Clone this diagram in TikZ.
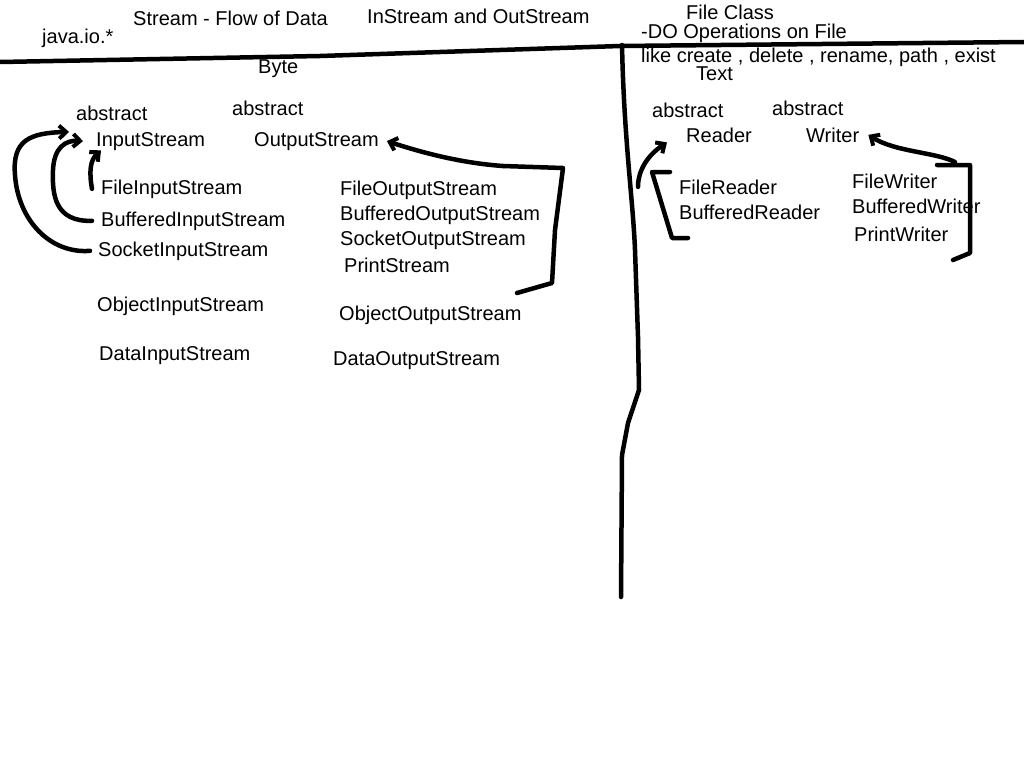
\documentclass[tikz,border=0pt]{standalone}
\usepackage{fontspec}
\setmainfont{Liberation Sans}
\usetikzlibrary{arrows.meta}
\tikzset{
  lbl/.style={anchor=base west,inner sep=0pt,font=\fontsize{20}{24}\selectfont},
  hand/.style={line width=4.5pt,line cap=round,line join=round},
  harrow/.style={hand,-{Straight Barb[length=7pt,width=13pt,line width=4pt]}}
}
\begin{document}
\begin{tikzpicture}[x=1pt,y=1pt,yscale=-1,xscale=1]
\useasboundingbox (0,0) rectangle (1024,768);

% Text Node
\node[lbl] (javaio) at (42,44) {java.io.*};
\node[lbl] (flow) at (133,26) {Stream - Flow of Data};
\node[lbl] (inout) at (367,24) {InStream and OutStream};
\node[lbl] (fileclass) at (686,20) {File Class};
\node[lbl] (fileops) at (641,38) {-DO Operations on File};
\node[lbl] (fileops2) at (641,63) {like create , delete , rename, path , exist};
\node[lbl] (text) at (696,81) {Text};
\node[lbl] (byte) at (258,73) {Byte};

% Text Node
\node[lbl] (absin) at (76,120) {abstract};
\node[lbl] (instream) at (96,146) {InputStream};
\node[lbl] (absout) at (232,115) {abstract};
\node[lbl] (outstream) at (254,146) {OutputStream};
\node[lbl] (filein) at (101,194) {FileInputStream};
\node[lbl] (bufin) at (101,226) {BufferedInputStream};
\node[lbl] (sockin) at (98,256) {SocketInputStream};
\node[lbl] (objin) at (97,311) {ObjectInputStream};
\node[lbl] (datain) at (99,360) {DataInputStream};
\node[lbl] (fileout) at (340,195) {FileOutputStream};
\node[lbl] (bufout) at (340,220) {BufferedOutputStream};
\node[lbl] (sockout) at (340,245) {SocketOutputStream};
\node[lbl] (printout) at (344,272) {PrintStream};
\node[lbl] (objout) at (339,320) {ObjectOutputStream};
\node[lbl] (dataout) at (333,365) {DataOutputStream};

% Text Node
\node[lbl] (absrd) at (652,117) {abstract};
\node[lbl] (reader) at (686,142) {Reader};
\node[lbl] (abswr) at (772,115) {abstract};
\node[lbl] (writer) at (806,142) {Writer};
\node[lbl] (filerd) at (679,194) {FileReader};
\node[lbl] (bufrd) at (679,219) {BufferedReader};
\node[lbl] (filewr) at (852,188) {FileWriter};
\node[lbl] (bufwr) at (852,213) {BufferedWriter};
\node[lbl] (printwr) at (854,241) {PrintWriter};

%Straight Lines
\draw[hand] (0,62) -- (320,56) -- (620,46) -- (1024,42);
\draw[hand] (622,45) .. controls (624,140) and (633,200) .. (635,250)
  -- (638,337) -- (639,390) -- (628,423) -- (622,455) -- (621,597);

%Curve Lines
\draw[harrow] ([xshift=-8pt]sockin.west) .. controls (50,254) and (18,220) .. (15,175)
  .. controls (12,140) and (30,133) .. ([xshift=-27pt]instream.north west);
\draw[harrow] ([xshift=-9pt]bufin.west) .. controls (55,222) and (52,195) .. (53,170)
  .. controls (54,148) and (65,140) .. ([xshift=-13pt]instream.west);
\draw[harrow] ([xshift=-9pt]filein.west) .. controls (89,172) and (90,160) .. ([xshift=5pt]instream.south west);

\coordinate (outtop) at (503,166);
\draw[harrow] (outtop) .. controls (460,163) and (420,152) .. ([xshift=8pt]outstream.east);
\draw[hand] (outtop) -- (563,168) -- (555,230) -- (552,283) -- (517,293);

\draw[harrow] ([xshift=-41pt]filerd.west) .. controls (638,170) and (648,155) .. ([xshift=-19pt]reader.south west);
\draw[hand] (670,172) -- (652,172) -- (672,238) -- (688,238);

\draw[harrow] (955,162) .. controls (935,152) and (895,152) .. ([xshift=9pt]writer.east);
\draw[hand] (937,165) -- (970,165) -- (970,253) -- (953,260);

\end{tikzpicture}
\end{document}
